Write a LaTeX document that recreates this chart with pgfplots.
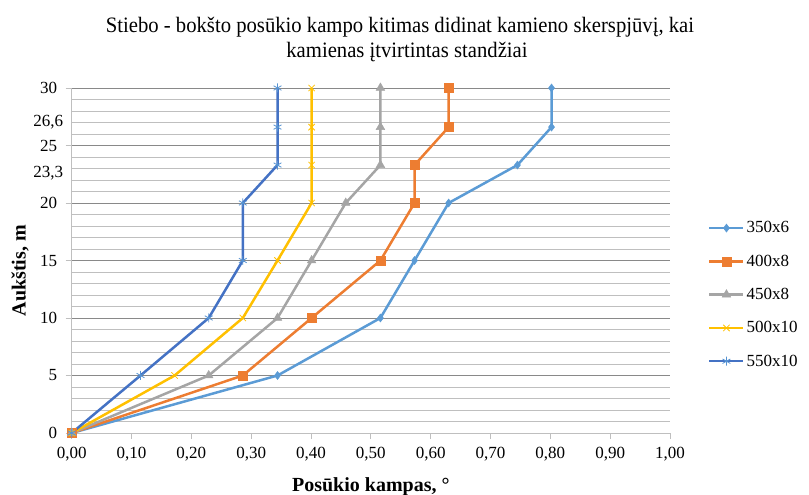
\documentclass[border=0pt]{standalone}
\usepackage{pgfplots}
\pgfplotsset{compat=1.18}
\usepackage{fontspec}
\setmainfont{Liberation Serif}
\newfontfamily\titlefont[FakeStretch=0.94]{Liberation Serif}
\definecolor{c1}{HTML}{5B9BD5}
\definecolor{c2}{HTML}{ED7D31}
\definecolor{c3}{HTML}{A5A5A5}
\definecolor{c4}{HTML}{FFC000}
\definecolor{c5}{HTML}{4472C4}
\definecolor{majg}{HTML}{898989}
\definecolor{ming}{HTML}{BFBFBF}
\begin{document}
\begin{tikzpicture}
\path[use as bounding box] (0,0) rectangle (809bp,495bp);
\node[anchor=base, font=\titlefont\fontsize{22bp}{25bp}\selectfont, inner sep=0pt] at (400bp,462bp) {Stiebo - bokšto posūkio kampo kitimas didinat kamieno skerspjūvį, kai};
\node[anchor=base, font=\titlefont\fontsize{22bp}{25bp}\selectfont, inner sep=0pt] at (407bp,437bp) {kamienas įtvirtintas standžiai};
\begin{axis}[
  at={(71.7bp,62bp)}, anchor=south west,
  scale only axis, width=598.3bp, height=345bp,
  xmin=0, xmax=1, ymin=0, ymax=30,
  axis x line*=bottom, axis y line*=left,
  axis line style={-, draw=ming, line width=0.8bp},
  xtick={0,0.1,0.2,0.3,0.4,0.5,0.6,0.7,0.8,0.9,1.0},
  ytick={0,5,10,15,20,25,30},
  minor ytick={1,2,3,4,6,7,8,9,11,12,13,14,16,17,18,19,21,22,23,24,26,27,28,29},
  extra y ticks={22.6,27.0},
  extra y tick labels={23{,}3,26{,}6},
  extra y tick style={grid=none, major tick length=0pt},
  ymajorgrids, yminorgrids,
  major grid style={draw=majg, line width=0.8bp},
  minor grid style={draw=ming, line width=0.8bp},
  tick align=outside, major tick length=6bp, minor tick length=0pt,
  tick style={draw=ming, line width=0.8bp},
  x tick label style={/pgf/number format/.cd, fixed, fixed zerofill, precision=2, use comma, assume math mode=true},
  y tick label style={/pgf/number format/.cd, use comma, assume math mode=true},
  tick label style={font=\fontsize{17bp}{17bp}\selectfont},
  xticklabel shift=5bp, yticklabel shift=5bp,
  xlabel={\textbf{Posūkio kampas, °}},
  ylabel={\textbf{Aukštis, m}},
  label style={font=\fontsize{20bp}{20bp}\selectfont},
  xlabel style={at={(axis description cs:0.5,0)}, anchor=base, yshift=-58bp},
  ylabel style={at={(axis description cs:-0.0864,0.47)}, anchor=center, rotate=0},
  legend style={at={(axis description cs:1.0635,0.401)}, anchor=west, draw=none, fill=none,
    font=\fontsize{17bp}{17bp}\selectfont, row sep=16.5bp, inner sep=0pt},
  legend cell align=left,
  legend image code/.code={\draw[mark repeat=2,mark phase=2] plot coordinates {(0bp,0bp) (17bp,0bp) (34bp,0bp)};},
  every axis plot/.append style={line width=2.5bp},
  clip=false,
]
\addplot[c1, mark=diamond*, mark size=4bp, mark options={fill=c1, line width=0.5bp}] coordinates {
(0,0) (0.344,5) (0.516,10) (0.573,15) (0.630,20) (0.745,23.3) (0.802,26.6) (0.802,30)};
\addlegendentry{350x6}
\addplot[c2, mark=square*, mark size=4.5bp, mark options={fill=c2, line width=0.5bp}] coordinates {
(0,0) (0.286,5) (0.401,10) (0.516,15) (0.573,20) (0.573,23.3) (0.630,26.6) (0.630,30)};
\addlegendentry{400x8}
\addplot[c3, mark=triangle*, mark size=5bp, mark options={fill=c3, line width=0.5bp}] coordinates {
(0,0) (0.229,5) (0.344,10) (0.401,15) (0.458,20) (0.516,23.3) (0.516,26.6) (0.516,30)};
\addlegendentry{450x8}
\addplot[c4, mark=x, mark size=4.5bp, mark options={line width=0.8bp}] coordinates {
(0,0) (0.172,5) (0.286,10) (0.344,15) (0.401,20) (0.401,23.3) (0.401,26.6) (0.401,30)};
\addlegendentry{500x10}
\addplot[c5, mark=asterisk, mark size=4.5bp, mark options={draw=c1!80!c5, line width=0.8bp}] coordinates {
(0,0) (0.115,5) (0.229,10) (0.286,15) (0.286,20) (0.344,23.3) (0.344,26.6) (0.344,30)};
\addlegendentry{550x10}
\end{axis}
\end{tikzpicture}
\end{document}
